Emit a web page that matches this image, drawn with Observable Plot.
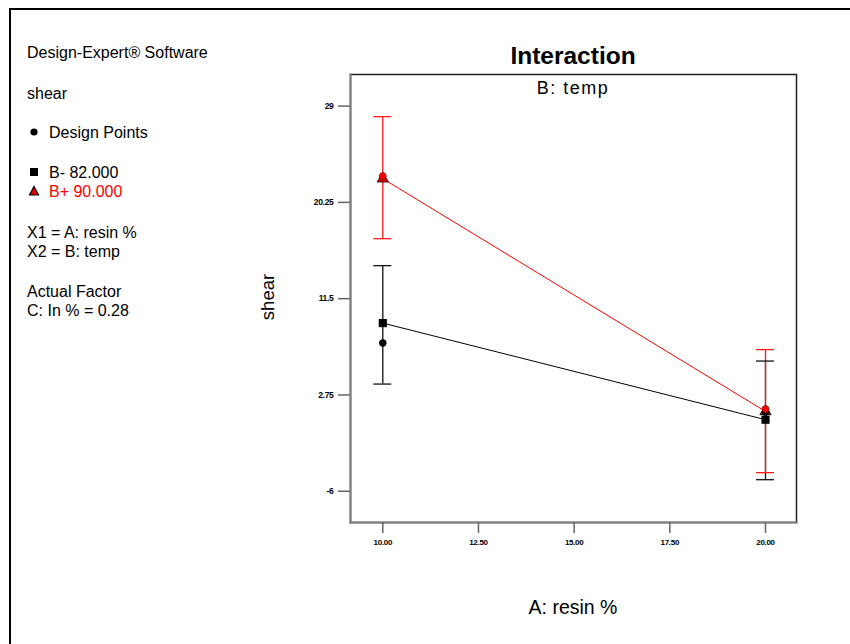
<!DOCTYPE html>
<html>
<head>
<meta charset="utf-8">
<script src="https://cdn.jsdelivr.net/npm/d3@7"></script>
<script src="https://cdn.jsdelivr.net/npm/@observablehq/plot@0.6"></script>
<style>
  html, body { margin: 0; padding: 0; background: #fff; }
  #page { position: relative; width: 850px; height: 644px; overflow: hidden; font-family: "Liberation Sans", Arial, sans-serif; color: #000; }
  #border { position: absolute; left: 9px; top: 8px; width: 900px; height: 700px; border-top: 2px solid #000; border-left: 2px solid #000; }
  #chart { position: absolute; left: 0; top: 0; }
  .t { position: absolute; white-space: nowrap; font-size: 16px; line-height: 1; }
  #title { position: absolute; left: 350px; width: 446px; top: 42px; text-align: center; font-size: 24.5px; font-weight: bold; }
  #subtitle { position: absolute; left: 350px; width: 446px; top: 78px; text-align: center; font-size: 18px; letter-spacing: 1.5px; }
  #xlabel { position: absolute; left: 350px; width: 446px; top: 596px; text-align: center; font-size: 19.5px; }
  #ylabel { position: absolute; left: 268px; top: 297px; font-size: 18.5px; transform: translate(-50%, -50%) rotate(-90deg); white-space: nowrap; }
  #chart svg g[aria-label="y-axis tick label"] text,
  #chart svg g[aria-label="x-axis tick label"] text { font-weight: bold; font-family: "Liberation Sans", Arial, sans-serif; letter-spacing: -0.3px; }
</style>
</head>
<body>
<div id="page">
  <div id="border"></div>
  <div id="chart"></div>
  <div class="t" style="left:27px; top:45px;">Design-Expert® Software</div>
  <div class="t" style="left:27px; top:86px;">shear</div>
  <div class="t" style="left:27px; top:125px;"><svg width="18" height="14" style="vertical-align:-1px"><circle cx="7" cy="7" r="3.6" fill="#000"/></svg><span style="margin-left:4px">Design Points</span></div>
  <div class="t" style="left:27px; top:165px;"><svg width="18" height="14" style="vertical-align:-1px"><rect x="3" y="3" width="8" height="8" fill="#000"/></svg><span style="margin-left:4px">B- 82.000</span></div>
  <div class="t" style="left:27px; top:184px; color:#ff0000;"><svg width="18" height="14" style="vertical-align:-1px"><path d="M7,2.5 L11.5,11 L2.5,11 Z" fill="#e00000" stroke="#000" stroke-width="1.2"/></svg><span style="margin-left:4px">B+ 90.000</span></div>
  <div class="t" style="left:27px; top:225px;">X1 = A: resin %</div>
  <div class="t" style="left:27px; top:244px;">X2 = B: temp</div>
  <div class="t" style="left:27px; top:284px;">Actual Factor</div>
  <div class="t" style="left:27px; top:303px;">C: In % = 0.28</div>
  <div id="title">Interaction</div>
  <div id="subtitle">B: temp</div>
  <div id="xlabel">A: resin %</div>
  <div id="ylabel">shear</div>
</div>
<script>
// ---- data ----
const resinLevels = [10, 20];                 // A: resin %
const tempLevels = ["B- 82.000", "B+ 90.000"]; // B: temp
const predLow  = [9.28, 0.5];    // predicted shear at B-
const predHigh = [22.4, 1.25];   // predicted shear at B+
const lowerLow  = [3.74, -4.95]; // LSD bar lower, B-
const upperLow  = [14.5, 5.83];  // LSD bar upper, B-
const lowerHigh = [16.95, -4.31];// LSD bar lower, B+
const upperHigh = [28.04, 6.87]; // LSD bar upper, B+
const designX = [10, 20, 10, 20];
const designY = [7.47, 1.2, 22.64, 1.47];
const designGroup = ["B- 82.000", "B- 82.000", "B+ 90.000", "B+ 90.000"];
const xTicks = [10, 12.5, 15, 17.5, 20];
const xTickLabels = ["10.00", "12.50", "15.00", "17.50", "20.00"];
const yTicks = [29, 20.25, 11.5, 2.75, -6];
const yTickLabels = ["29", "20.25", "11.5", "2.75", "-6"];
const xDomain = [9.156, 20.81];
const yDomain = [-8.84, 31.87];

// ---- tables ----
const colors = {"B- 82.000": "#000000", "B+ 90.000": "#ff0000"};
const pred = [];
resinLevels.forEach((x, i) => {
  pred.push({x, group: tempLevels[0], y: predLow[i], lo: lowerLow[i], hi: upperLow[i]});
});
resinLevels.forEach((x, i) => {
  pred.push({x, group: tempLevels[1], y: predHigh[i], lo: lowerHigh[i], hi: upperHigh[i]});
});
const design = designX.map((x, i) => ({x, y: designY[i], group: designGroup[i]}));
const capHalf = 0.235; // half-width of the error-bar caps in x units

const barColor = g => g === tempLevels[0] ? "#111" : "#ff1a1a";

const chart = Plot.plot({
  width: 850,
  height: 644,
  marginLeft: 350,
  marginRight: 54,
  marginTop: 74,
  marginBottom: 122,
  style: {background: "transparent", overflow: "visible"},
  x: {domain: xDomain, label: null},
  y: {domain: yDomain, label: null},
  marks: [
    Plot.frame({stroke: "#222", strokeWidth: 1.5}),
    Plot.frame({anchor: "left", stroke: "#808080", strokeWidth: 2}),
    Plot.frame({anchor: "bottom", stroke: "#808080", strokeWidth: 2}),
    Plot.axisY({ticks: yTicks, tickSize: 12, tickPadding: 5, stroke: "#666", strokeWidth: 1.5,
      tickFormat: d => yTickLabels[yTicks.indexOf(d)], fontSize: 8.5, fill: "#000", label: null}),
    Plot.axisX({ticks: xTicks, tickSize: 11, tickPadding: 6, stroke: "#666", strokeWidth: 1.5,
      tickFormat: d => xTickLabels[xTicks.indexOf(d)], fontSize: 8, fill: "#000", label: null}),
    // error bars
    Plot.ruleX(pred, {x: "x", y1: "lo", y2: "hi", stroke: d => barColor(d.group), strokeWidth: 1.3}),
    Plot.ruleY(pred, {y: "lo", x1: d => d.x - capHalf, x2: d => d.x + capHalf, stroke: d => barColor(d.group), strokeWidth: 1.3}),
    Plot.ruleY(pred, {y: "hi", x1: d => d.x - capHalf, x2: d => d.x + capHalf, stroke: d => barColor(d.group), strokeWidth: 1.3}),
    // interaction lines
    Plot.line(pred, {x: "x", y: "y", z: "group", stroke: d => colors[d.group], strokeWidth: 1}),
    // predicted markers
    Plot.dot(pred.filter(d => d.group === tempLevels[0]), {x: "x", y: "y", symbol: "square", r: 4.6, fill: "#000", stroke: "none"}),
    Plot.dot(pred.filter(d => d.group === tempLevels[1]), {x: "x", y: "y", symbol: "triangle", r: 4.2, fill: "#e00000", stroke: "#000", strokeWidth: 0.8}),
    // design points
    Plot.dot(design, {x: "x", y: "y", r: 3.4, fill: d => d.group === tempLevels[0] ? "#000" : "#ff0000",
      stroke: d => d.group === tempLevels[0] ? "#000" : "#a00000", strokeWidth: 0.8})
  ]
});
document.getElementById("chart").appendChild(chart);
</script>
</body>
</html>
